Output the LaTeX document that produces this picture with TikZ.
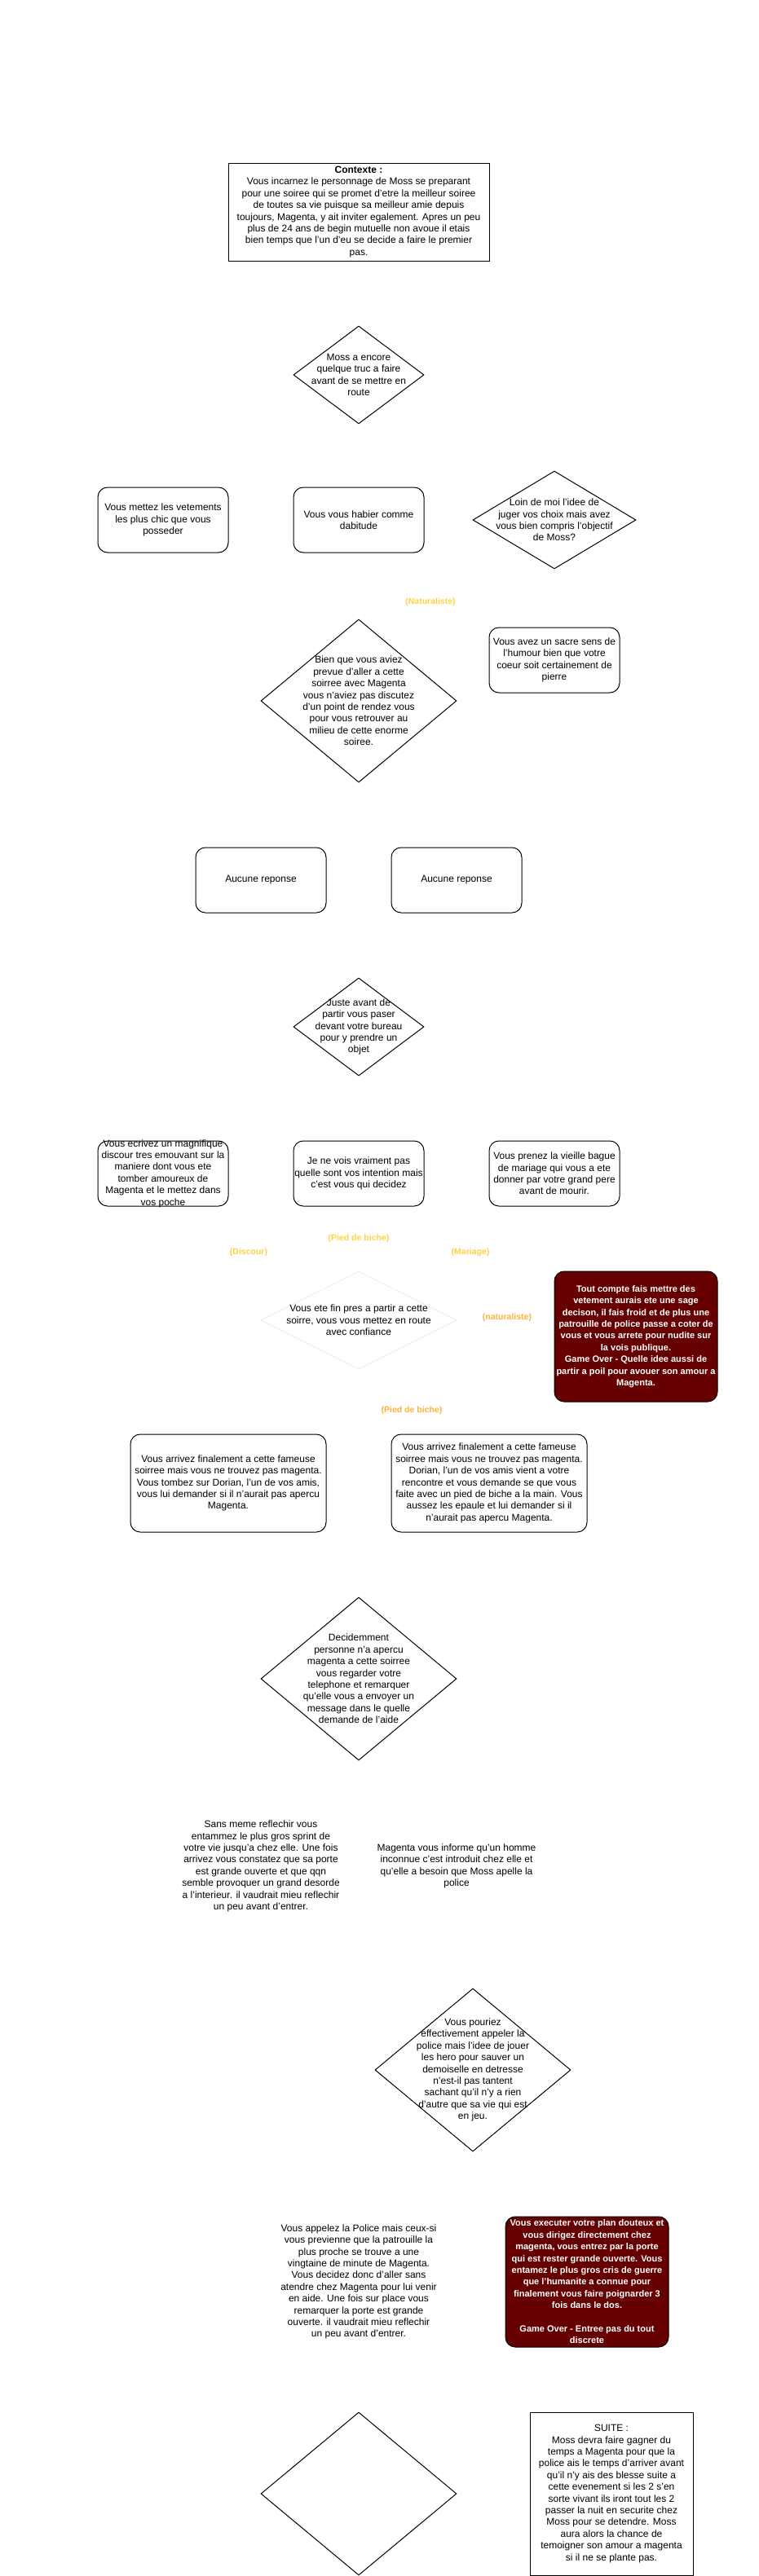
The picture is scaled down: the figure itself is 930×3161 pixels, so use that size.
\documentclass[tikz,border=0pt]{standalone}
\usepackage{fontspec}
\setmainfont{Liberation Sans}
\usetikzlibrary{shapes.geometric}
\definecolor{darkred}{rgb}{0.4, 0, 0}
\definecolor{gold}{rgb}{1, 0.82, 0.26}
\definecolor{amber}{rgb}{1, 0.69, 0.23}
\definecolor{pale}{rgb}{0.93, 0.93, 0.93}

\begin{document}
\begin{tikzpicture}[x=1pt,y=-1pt,line width=1pt,
        every node/.style={font=\fontsize{12}{14.4}\selectfont,align=center,inner sep=0pt},
        box/.style={draw,rounded corners=12pt,minimum width=160pt,minimum height=80pt},
        bigbox/.style={box,minimum width=240pt,minimum height=120pt},
        gameover/.style={box,fill=darkred,text=white,font=\fontsize{11}{14.4}\selectfont\bfseries,minimum width=200pt,minimum height=160pt},
        frame/.style 2 args={draw,minimum width=#1,minimum height=#2},
        choice/.style 2 args={draw,diamond,minimum width=#1,minimum height=#2},
        tag/.style={font=\fontsize{10.5}{12}\selectfont\bfseries,text=gold}]
        \useasboundingbox (0,0) rectangle (930,3161);

        % contexte
        \node[frame={320pt}{120pt}] (contexte) at (440,260) {\textbf{Contexte :}\\Vous incarnez le personnage de Moss se preparant\\pour une soiree qui se promet d'etre la meilleur soiree\\de toutes sa vie puisque sa meilleur amie depuis\\toujours, Magenta, y ait inviter egalement. Apres un peu\\plus de 24 ans de begin mutuelle non avoue il etais\\bien temps que l'un d'eu se decide a faire le premier\\pas.};

        % habits
        \node[choice={160pt}{120pt}] (encore) at (440,460) {};
        \node at (encore) {Moss a encore\\quelque truc a faire\\avant de se mettre en\\route};
        \node[box] (chic) at (200,638) {Vous mettez les vetements\\les plus chic que vous\\posseder};
        \node[box] (habitude) at (440,638) {Vous vous habier comme\\dabitude};
        \node[choice={200pt}{120pt}] (loin) at (680,638) {};
        \node at (loin) {Loin de moi l'idee de\\juger vos choix mais avez\\vous bien compris l'objectif\\de Moss?};
        \node[tag] (tagnat) at (528,739) {(Naturaliste)};
        \node[choice={240pt}{200pt}] (rendezvous) at (440,860) {};
        \node at (rendezvous) {Bien que vous aviez\\prevue d'aller a cette\\soirree avec Magenta\\vous n'aviez pas discutez\\d'un point de rendez vous\\pour vous retrouver au\\milieu de cette enorme\\soiree.};
        \node[box] (humour) at (680,810) {Vous avez un sacre sens de\\l'humour bien que votre\\coeur soit certainement de\\pierre};
        \node[box] (aucune1) at (320,1080) {Aucune reponse};
        \node[box] (aucune2) at (560,1080) {Aucune reponse};

        % objet
        \node[choice={160pt}{120pt}] (objet) at (440,1260) {};
        \node at (objet) {Juste avant de\\partir vous paser\\devant votre bureau\\pour y prendre un\\objet};
        \node[box] (discour) at (200,1440) {};
        \node at (discour) {Vous ecrivez un magnifique\\discour tres emouvant sur la\\maniere dont vous ete\\tomber amoureux de\\Magenta et le mettez dans\\vos poche};
        \node[box] (intention) at (440,1440) {Je ne vois vraiment pas\\quelle sont vos intention mais\\c'est vous qui decidez};
        \node[box] (bague) at (680,1440) {Vous prenez la vieille bague\\de mariage qui vous a ete\\donner par votre grand pere\\avant de mourir.};
        \node[tag] (tagbiche) at (440,1520) {(Pied de biche)};
        \node[tag] (tagdiscour) at (305,1537) {(Discour)};
        \node[tag] (tagmariage) at (577,1537) {(Mariage)};

        % depart
        \node[choice={240pt}{120pt},draw=pale] (route) at (440,1620) {};
        \node at (route) {Vous ete fin pres a partir a cette\\soirre, vous vous mettez en route\\avec confiance};
        \node[tag,text=amber] (tagnat2) at (622,1617) {(naturaliste)};
        \node[gameover] (poil) at (780,1640) {Tout compte fais mettre des\\vetement aurais ete une sage\\decison, il fais froid et de plus une\\patrouille de police passe a coter de\\vous et vous arrete pour nudite sur\\la vois publique.\\Game Over - Quelle idee aussi de\\partir a poil pour avouer son amour a\\Magenta.};
        \node[tag,text=amber] (tagbiche2) at (505,1731) {(Pied de biche)};

        % soiree
        \node[bigbox] (dorian) at (280,1820) {Vous arrivez finalement a cette fameuse\\soirree mais vous ne trouvez pas magenta.\\Vous tombez sur Dorian, l'un de vos amis,\\vous lui demander si il n'aurait pas apercu\\Magenta.};
        \node[bigbox] (biche) at (600,1820) {Vous arrivez finalement a cette fameuse\\soirree mais vous ne trouvez pas magenta.\\Dorian, l'un de vos amis vient a votre\\rencontre et vous demande se que vous\\faite avec un pied de biche a la main. Vous\\aussez les epaule et lui demander si il\\n'aurait pas apercu Magenta.};
        \node[choice={240pt}{200pt}] (message) at (440,2060) {};
        \node at (message) {Decidemment\\personne n'a apercu\\magenta a cette soirree\\vous regarder votre\\telephone et remarquer\\qu'elle vous a envoyer un\\message dans le quelle\\demande de l'aide};
        \node (sprint) at (320,2290) {Sans meme reflechir vous\\entammez le plus gros sprint de\\votre vie jusqu'a chez elle. Une fois\\arrivez vous constatez que sa porte\\est grande ouverte et que qqn\\semble provoquer un grand desorde\\a l'interieur. il vaudrait mieu reflechir\\un peu avant d'entrer.};
        \node (informe) at (560,2290) {Magenta vous informe qu'un homme\\inconnue c'est introduit chez elle et\\qu'elle a besoin que Moss apelle la\\police};

        % police
        \node[choice={240pt}{200pt}] (hero) at (580,2540) {};
        \node at (hero) {Vous pouriez\\effectivement appeler la\\police mais l'idee de jouer\\les hero pour sauver un\\demoiselle en detresse\\n'est-il pas tantent\\sachant qu'il n'y a rien\\d'autre que sa vie qui est\\en jeu.};
        \node (appel) at (440,2800) {Vous appelez la Police mais ceux-si\\vous previenne que la patrouille la\\plus proche se trouve a une\\vingtaine de minute de Magenta.\\Vous decidez donc d'aller sans\\atendre chez Magenta pour lui venir\\en aide. Une fois sur place vous\\remarquer la porte est grande\\ouverte. il vaudrait mieu reflechir\\un peu avant d'entrer.};
        \node[gameover] (cris) at (720,2800) {Vous executer votre plan douteux et\\vous dirigez directement chez\\magenta, vous entrez par la porte\\qui est rester grande ouverte. Vous\\entamez le plus gros cris de guerre\\que l'humanite a connue pour\\finalement vous faire poignarder 3\\fois dans le dos.\\[14.4pt]Game Over - Entree pas du tout\\discrete};

        % suite
        \node[choice={240pt}{200pt}] (fin) at (440,3060) {};
        \node[frame={200pt}{200pt}] (suite) at (750,3060) {SUITE :\\Moss devra faire gagner du\\temps a Magenta pour que la\\police ais le temps d'arriver avant\\qu'il n'y ais des blesse suite a\\cette evenement si les 2 s'en\\sorte vivant ils iront tout les 2\\passer la nuit en securite chez\\Moss pour se detendre. Moss\\aura alors la chance de\\temoigner son amour a magenta\\si il ne se plante pas.};
    \end{tikzpicture}
\end{document}
